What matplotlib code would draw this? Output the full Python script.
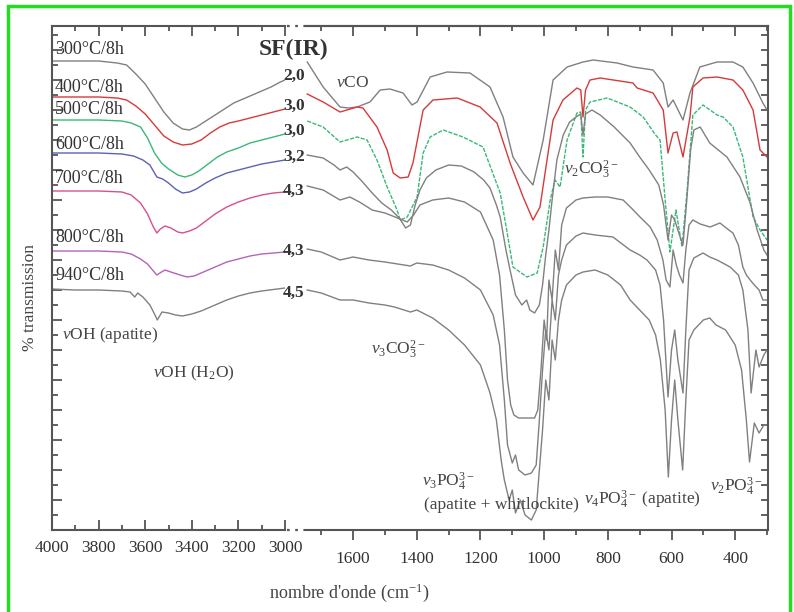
import matplotlib
matplotlib.use('Agg')
import matplotlib.pyplot as plt
from matplotlib.lines import Line2D
from matplotlib.patches import Rectangle
from matplotlib.ticker import MultipleLocator

plt.rcParams['font.family'] = ['Liberation Serif', 'DejaVu Serif']
plt.rcParams['mathtext.fontset'] = 'custom'
plt.rcParams['mathtext.rm'] = 'Liberation Serif'
plt.rcParams['mathtext.it'] = 'Liberation Serif:italic'
plt.rcParams['mathtext.bf'] = 'Liberation Serif:bold'

temps = ['300°C/8h', '400°C/8h', '500°C/8h', '600°C/8h', '700°C/8h', '800°C/8h', '940°C/8h']
sf_ir = ['2,0', '3,0', '3,0', '3,2', '4,3', '4,3', '4,5']

# OH region, (wavenumber, transmission in arbitrary units)
oh_300 = [(4000, 469), (3900, 469), (3800, 469), (3720, 467), (3680, 465), (3640, 456), (3600, 446),
          (3560, 432), (3520, 418), (3480, 407), (3440, 401), (3410, 400), (3380, 403), (3340, 409),
          (3300, 415), (3260, 421), (3220, 427), (3180, 431), (3140, 435), (3100, 439), (3060, 443),
          (3020, 448), (3000, 450)]
oh_400 = [(4000, 433), (3900, 433), (3800, 433), (3720, 432), (3680, 430), (3640, 424), (3600, 416),
          (3560, 405), (3520, 394), (3480, 388), (3440, 385), (3400, 386), (3360, 390), (3320, 397),
          (3280, 403), (3240, 407), (3200, 409), (3150, 412), (3100, 415), (3050, 418), (3000, 421)]
oh_500 = [(4000, 410), (3900, 410), (3800, 410), (3700, 409), (3660, 407), (3620, 403), (3590, 392),
          (3560, 377), (3530, 367), (3500, 361), (3460, 355), (3430, 353), (3400, 355), (3370, 359),
          (3330, 366), (3290, 373), (3250, 378), (3200, 382), (3150, 387), (3100, 390), (3050, 393),
          (3000, 396)]
oh_600 = [(4000, 377), (3900, 377), (3800, 377), (3700, 376), (3650, 374), (3610, 370), (3580, 365),
          (3550, 353), (3525, 351), (3500, 347), (3470, 341), (3440, 337), (3410, 338), (3380, 341),
          (3340, 347), (3300, 352), (3250, 357), (3200, 360), (3150, 363), (3100, 366), (3050, 368),
          (3000, 370)]
oh_700 = [(4000, 339), (3900, 339), (3800, 339), (3700, 338), (3660, 335), (3620, 327), (3590, 316),
          (3565, 303), (3550, 297), (3535, 301), (3515, 304), (3490, 302), (3460, 298), (3440, 297),
          (3410, 299), (3380, 302), (3340, 309), (3300, 316), (3250, 323), (3200, 328), (3150, 332),
          (3100, 335), (3050, 337), (3000, 338)]
oh_800 = [(4000, 279), (3900, 279), (3800, 279), (3700, 278), (3660, 276), (3620, 271), (3590, 266),
          (3565, 259), (3550, 255), (3530, 258), (3515, 260), (3490, 258), (3450, 255), (3420, 253),
          (3390, 254), (3350, 258), (3300, 263), (3250, 268), (3200, 271), (3150, 274), (3100, 276),
          (3000, 278)]
oh_940 = [(4000, 241), (3900, 240), (3800, 240), (3700, 239), (3665, 238), (3645, 233), (3632, 237),
          (3610, 233), (3580, 225), (3560, 216), (3548, 210), (3538, 214), (3528, 218), (3500, 217),
          (3470, 215), (3440, 214), (3400, 216), (3360, 219), (3300, 225), (3250, 230), (3200, 234),
          (3150, 237), (3100, 239), (3000, 242)]

# 1750-300 cm-1 region
fp_300 = [(1744, 468), (1694, 443), (1641, 423), (1616, 422), (1587, 423), (1547, 428), (1515, 440),
          (1484, 441), (1443, 437), (1415, 425), (1399, 428), (1358, 453), (1305, 458), (1233, 457),
          (1170, 443), (1129, 413), (1098, 373), (1066, 357), (1035, 345), (1003, 390), (972, 450),
          (928, 463), (878, 468), (846, 470), (771, 467), (721, 463), (658, 460), (626, 447), (611, 423),
          (595, 430), (564, 410), (542, 437), (511, 463), (457, 468), (407, 468), (376, 463), (344, 447),
          (313, 427), (300, 420)]
fp_400 = [(1744, 436), (1694, 428), (1641, 418), (1587, 423), (1569, 422), (1525, 403), (1493, 380),
          (1474, 357), (1452, 352), (1427, 353), (1412, 367), (1380, 420), (1349, 430), (1273, 432),
          (1201, 423), (1148, 407), (1107, 367), (1066, 333), (1035, 310), (1013, 323), (991, 370),
          (972, 410), (941, 430), (897, 442), (885, 440), (878, 413), (870, 440), (856, 450), (824, 452),
          (721, 447), (708, 442), (658, 437), (626, 420), (611, 377), (595, 397), (583, 398), (564, 373),
          (542, 413), (533, 443), (501, 452), (457, 453), (407, 450), (376, 440), (344, 420), (322, 380),
          (300, 373)]
fp_500 = [(1744, 409), (1694, 403), (1641, 388), (1587, 393), (1556, 390), (1525, 370), (1493, 343),
          (1462, 320), (1452, 310), (1430, 313), (1399, 333), (1380, 377), (1358, 393), (1317, 400),
          (1255, 393), (1192, 383), (1138, 337), (1116, 297), (1098, 263), (1054, 253), (1022, 257),
          (1003, 283), (981, 330), (966, 350), (950, 343), (928, 390), (897, 417), (885, 418), (878, 373),
          (870, 420), (856, 428), (802, 432), (730, 423), (689, 413), (650, 395), (636, 390), (620, 330),
          (605, 278), (586, 320), (567, 283), (551, 340), (533, 415), (501, 425), (457, 415), (438, 413),
          (407, 403), (376, 373), (344, 313), (322, 300), (300, 290)]
fp_600 = [(1744, 375), (1694, 372), (1660, 365), (1641, 360), (1620, 363), (1600, 358), (1570, 348),
          (1540, 337), (1510, 327), (1480, 320), (1455, 312), (1435, 302), (1420, 305), (1405, 325),
          (1390, 340), (1370, 352), (1340, 360), (1300, 365), (1260, 364), (1220, 358), (1190, 350),
          (1170, 342), (1150, 325), (1138, 313), (1120, 280), (1107, 260), (1090, 235), (1070, 225),
          (1055, 230), (1045, 220), (1030, 217), (1015, 225), (1005, 245), (995, 275), (985, 300),
          (975, 330), (960, 370), (940, 395), (920, 408), (900, 413), (885, 416), (878, 395), (870, 416),
          (850, 420), (824, 415), (780, 403), (730, 387), (700, 373), (670, 360), (640, 345), (625, 325),
          (611, 290), (600, 315), (590, 310), (575, 295), (564, 285), (552, 330), (540, 380), (530, 400),
          (510, 403), (480, 387), (426, 373), (385, 353), (353, 327), (331, 300), (310, 280), (300, 275)]
fp_700 = [(1744, 344), (1694, 340), (1641, 330), (1610, 333), (1580, 328), (1540, 320), (1500, 317),
          (1460, 312), (1430, 308), (1410, 315), (1390, 325), (1350, 330), (1300, 332), (1250, 328),
          (1200, 318), (1160, 290), (1140, 255), (1125, 200), (1115, 150), (1105, 125), (1095, 115),
          (1080, 112), (1050, 112), (1030, 112), (1020, 120), (1010, 160), (1000, 210), (992, 190),
          (985, 250), (975, 230), (965, 280), (955, 260), (945, 305), (930, 322), (900, 330), (878, 332),
          (840, 333), (800, 333), (752, 330), (720, 320), (699, 313), (667, 303), (645, 290), (627, 270),
          (617, 250), (605, 243), (595, 280), (585, 265), (575, 255), (564, 247), (555, 280), (545, 305),
          (533, 310), (510, 306), (479, 303), (448, 307), (420, 300), (407, 297), (390, 285), (376, 263),
          (365, 255), (353, 250), (340, 245), (325, 240), (313, 230), (300, 230)]
fp_800 = [(1744, 281), (1700, 278), (1641, 270), (1600, 273), (1550, 270), (1500, 268), (1460, 266),
          (1420, 264), (1400, 267), (1350, 265), (1300, 260), (1250, 252), (1200, 240), (1160, 215),
          (1140, 185), (1125, 130), (1115, 85), (1100, 67), (1090, 75), (1080, 60), (1060, 55), (1040, 57),
          (1025, 65), (1015, 110), (1005, 160), (995, 200), (985, 180), (975, 230), (965, 210), (955, 255),
          (945, 270), (930, 285), (900, 294), (878, 297), (840, 295), (784, 293), (730, 280), (700, 275),
          (677, 270), (650, 260), (636, 245), (625, 210), (611, 133), (600, 180), (590, 200), (580, 170),
          (564, 137), (555, 200), (545, 260), (530, 272), (501, 277), (480, 273), (457, 270), (416, 263),
          (390, 255), (376, 240), (360, 200), (350, 137), (335, 180), (325, 163), (310, 175), (300, 180)]
fp_940 = [(1744, 240), (1700, 237), (1641, 230), (1600, 230), (1550, 227), (1500, 225), (1470, 223),
          (1420, 218), (1400, 220), (1350, 212), (1300, 200), (1250, 185), (1200, 165), (1170, 137),
          (1150, 110), (1135, 70), (1125, 50), (1110, 30), (1100, 40), (1090, 17), (1075, 30), (1060, 15),
          (1040, 10), (1025, 20), (1015, 60), (1005, 100), (995, 150), (985, 130), (975, 190), (965, 170),
          (955, 210), (945, 230), (930, 245), (900, 255), (878, 258), (840, 260), (800, 255), (760, 245),
          (730, 230), (700, 220), (670, 210), (650, 195), (635, 170), (620, 120), (610, 53), (600, 110),
          (590, 150), (580, 110), (565, 60), (555, 130), (545, 190), (530, 200), (500, 210), (480, 212),
          (460, 205), (430, 200), (400, 185), (380, 160), (365, 110), (355, 68), (340, 107), (325, 97),
          (310, 105), (300, 105)]

oh_series = [oh_300, oh_400, oh_500, oh_600, oh_700, oh_800, oh_940]
fp_series = [fp_300, fp_400, fp_500, fp_600, fp_700, fp_800, fp_940]

W, H = 794, 612
AXC = '#555555'
GREY = '#808080'


def fpx(x, y):
    # figure pixel -> figure fraction
    return x / W, 1 - y / H


def main():
    fig = plt.figure(figsize=(W / 100, H / 100), dpi=100)
    ax1 = fig.add_axes([52 / W, 82 / H, 233 / W, 504 / H])
    ax2 = fig.add_axes([305 / W, 82 / H, 463 / W, 504 / H])

    oh_colors = [GREY, '#d63a3a', '#3cb878', '#5b62b5', '#d6508e', '#b463b9', GREY]
    fp_colors = [GREY, '#d63a3a', '#3cb878', GREY, GREY, GREY, GREY]
    fp_styles = ['-', '-', (0, (3, 1)), '-', '-', '-', '-']

    for s, c in zip(oh_series, oh_colors):
        ax1.plot([p[0] for p in s], [p[1] for p in s], color=c, lw=1.0)
    for s, c, ls in zip(fp_series, fp_colors, fp_styles):
        ax2.plot([p[0] for p in s], [p[1] for p in s], color=c, lw=1.0, ls=ls)

    ax1.set_xlim(4000, 3000)
    ax2.set_xlim(1751, 297)
    for ax in (ax1, ax2):
        ax.set_ylim(0, 504)
        ax.xaxis.set_major_locator(MultipleLocator(200))
        ax.xaxis.set_minor_locator(MultipleLocator(100))
        ax.yaxis.set_major_locator(MultipleLocator(30))
        ax.yaxis.set_minor_locator(MultipleLocator(15))
        for sp in ax.spines.values():
            sp.set_color(AXC)
            sp.set_linewidth(1.5)
        ax.tick_params(which='both', colors=AXC, width=1.3, labelcolor='#333333', labelsize=12.5)

    ax1.spines['right'].set_visible(False)
    ax1.tick_params(axis='x', which='both', direction='in', top=True, bottom=True, pad=7)
    ax1.tick_params(axis='x', which='major', length=7)
    ax1.tick_params(axis='x', which='minor', length=3.5)
    ax1.tick_params(axis='y', which='both', direction='in', left=True, right=False, labelleft=False)
    ax1.tick_params(axis='y', which='major', length=7)
    ax1.tick_params(axis='y', which='minor', length=4.5)

    ax2.spines['left'].set_visible(False)
    ax2.tick_params(axis='x', which='both', direction='out', top=False, bottom=True, pad=8)
    ax2.tick_params(axis='x', which='major', length=7)
    ax2.tick_params(axis='x', which='minor', length=3.5)
    ax2.tick_params(axis='y', which='both', direction='in', left=False, right=True,
                    labelleft=False, labelright=False, length=5)
    top = ax2.secondary_xaxis('top')
    top.xaxis.set_major_locator(MultipleLocator(200))
    top.xaxis.set_minor_locator(MultipleLocator(100))
    top.spines['top'].set_color(AXC)
    top.spines['top'].set_linewidth(1.5)
    top.tick_params(which='both', direction='in', colors=AXC, width=1.3, labeltop=False)
    top.tick_params(which='major', length=7)
    top.tick_params(which='minor', length=3.5)

    # break marks between the two panels
    for y in (26, 530):
        x0, yy = fpx(287, y)
        x1, _ = fpx(304, y)
        fig.add_artist(Line2D([x0, x1], [yy, yy], ls=(0, (1.2, 2.5)), color=AXC, lw=1.6))

    # temperature labels
    for t, y in zip(temps, [50, 88, 109, 144, 178, 237, 276]):
        fig.text(*fpx(55, y), t, fontsize=13, va='center', ha='left', color='#333333')
    fig.text(*fpx(294, 49), 'SF(IR)', fontsize=17, fontweight='bold', va='center', ha='center',
             color='#333333')
    for v, y in zip(sf_ir, [76, 106, 131, 157, 191, 251, 293]):
        fig.text(*fpx(294, y), v, fontsize=12.5, fontweight='bold', va='center', ha='center',
                 color='#333333')

    tc = '#444444'
    fig.text(*fpx(353, 83), r'$\nu$CO', fontsize=12.5, va='center', ha='center', color=tc)
    fig.text(*fpx(591, 170), r'$\nu_2$CO$_3^{2-}$', fontsize=12.5, va='center', ha='center', color=tc)
    fig.text(*fpx(62, 335), r'$\nu$OH (apatite)', fontsize=12.5, va='center', ha='left', color=tc)
    fig.text(*fpx(194, 373), r'$\nu$OH (H$_2$O)', fontsize=12.5, va='center', ha='center', color=tc)
    fig.text(*fpx(398, 350), r'$\nu_3$CO$_3^{2-}$', fontsize=12.5, va='center', ha='center', color=tc)
    fig.text(*fpx(422, 482), r'$\nu_3$PO$_4^{3-}$', fontsize=12.5, va='center', ha='left', color=tc)
    fig.text(*fpx(501, 505), '(apatite + whitlockite)', fontsize=12.5, va='center', ha='center', color=tc)
    fig.text(*fpx(642, 500), r'$\nu_4$PO$_4^{3-}$ (apatite)', fontsize=12.5, va='center', ha='center', color=tc)
    fig.text(*fpx(736, 487), r'$\nu_2$PO$_4^{3-}$', fontsize=12.5, va='center', ha='center', color=tc)

    fig.text(*fpx(349, 593), "nombre d'onde (cm$^{-1}$)", fontsize=13, va='center', ha='center',
             color=tc)
    fig.text(*fpx(30, 297), '% transmission', fontsize=12.5, rotation=90, va='center', ha='center',
             color=tc)

    # green frame around the picture
    fig.add_artist(Rectangle((8 / W, -0.05), 782 / W, 1.05 - 6 / H, fill=False,
                             ec='#22dd22', lw=2.5, transform=fig.transFigure))

    fig.savefig('out.png', dpi=100)


main()
